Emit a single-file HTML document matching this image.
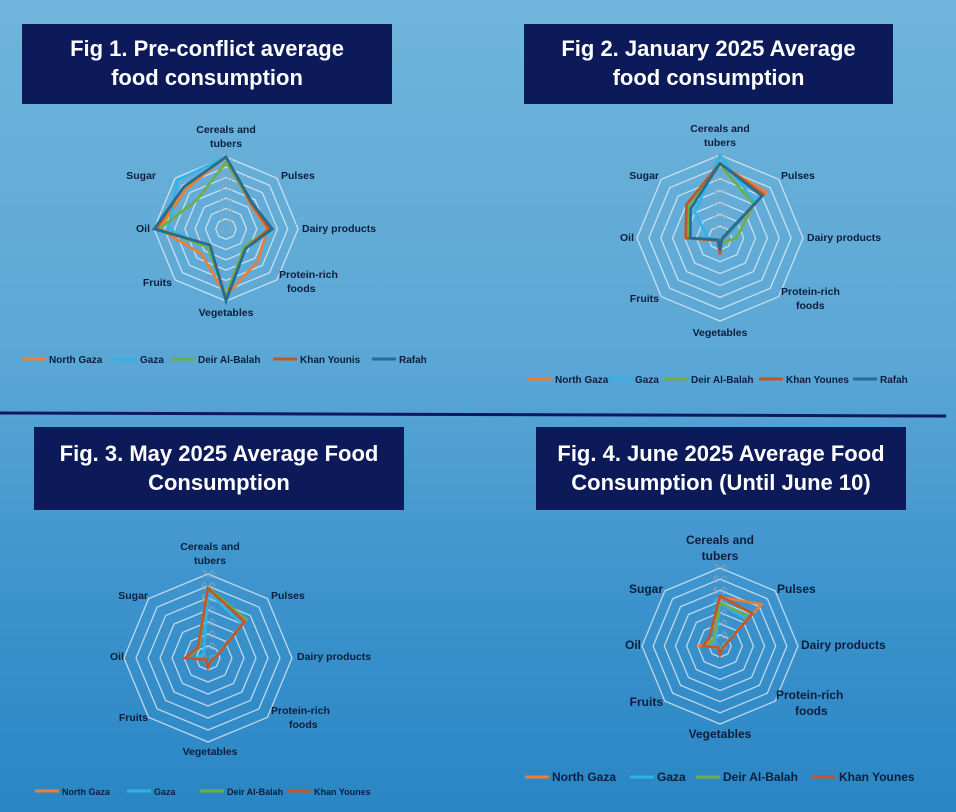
<!DOCTYPE html>
<html><head><meta charset="utf-8">
<style>
html,body{margin:0;padding:0;}
body{width:956px;height:812px;overflow:hidden;background:linear-gradient(180deg,#6fb5db 0%,#5aa6d5 45%,#3b92cc 75%,#2a86c4 100%);font-family:"Liberation Sans",sans-serif;position:relative;}
.tbox{position:absolute;background:#0c1a5a;color:#fff;font-weight:bold;text-align:center;display:flex;align-items:center;justify-content:center;line-height:1.3;}
svg{position:absolute;left:0;top:0;}
</style></head><body>
<div class="tbox" style="left:22px;top:24px;width:370px;height:80px;font-size:22px;">Fig 1. Pre-conflict average<br>food consumption</div>
<div class="tbox" style="left:524px;top:24px;width:369px;height:80px;font-size:22px;">Fig 2. January 2025 Average<br>food consumption</div>
<div class="tbox" style="left:34px;top:427px;width:370px;height:83px;font-size:22px;">Fig. 3. May 2025 Average Food<br>Consumption</div>
<div class="tbox" style="left:536px;top:427px;width:370px;height:83px;font-size:22px;">Fig. 4. June 2025 Average Food<br>Consumption (Until June 10)</div>
<svg id="chart" width="956" height="812" xmlns="http://www.w3.org/2000/svg">
<line x1="0" y1="413" x2="946" y2="416" stroke="#0c1a5a" stroke-width="3"/>
</svg>
<script>
const categories=["Cereals and tubers","Pulses","Dairy products","Protein-rich foods","Vegetables","Fruits","Oil","Sugar"];
const tickLabels=["0.0","1.0","2.0","3.0","4.0","5.0","6.0","7.0"];
const fig1NorthGaza=[7,3.4,4,4.4,6.5,3.4,6.5,5.5];
const fig1Gaza=[7,3.5,4.3,2.5,6.5,2.5,5.6,6.7];
const fig1DeirAlBalah=[6.5,3.5,4.2,2.5,6.5,2.5,6.5,4];
const fig1KhanYounis=[7,3.5,4.2,2.7,6.8,2.2,6.8,5.8];
const fig1Rafah=[7,3.6,4.5,2.7,7,2.2,7,5.8];
const fig2NorthGaza=[6.2,5.5,0.3,0.2,1.2,0.3,2.9,4];
const fig2Gaza=[7,4.2,0.5,0.3,0.5,0.3,1,3];
const fig2DeirAlBalah=[6.2,4,1.4,0.5,0.5,0.3,2.7,3.8];
const fig2KhanYounes=[6.3,5.2,0.3,0.2,1.4,0.3,2.9,4];
const fig2Rafah=[6.3,5,0.2,0.2,1,0.2,2.5,3.5];
const fig3NorthGaza=[5.8,4.3,0.6,0.3,0.8,0.2,1.9,1.2];
const fig3Gaza=[5.5,4,0.5,0.3,0.5,0.2,1,0.5];
const fig3DeirAlBalah=[5.9,4.5,0.6,0.3,0.6,0.2,1.8,1.1];
const fig3KhanYounes=[5.8,4.3,0.6,0.3,0.8,0.2,1.9,1.2];
const fig4NorthGaza=[4.4,5.3,0.3,0.2,0.5,0.2,1.8,0.8];
const fig4Gaza=[3.8,3.4,0.3,0.2,0.4,0.2,1,0.6];
const fig4DeirAlBalah=[3.9,3.7,0.4,0.3,0.6,0.2,1.2,0.8];
const fig4KhanYounes=[4.5,4.1,0.4,0.3,0.8,0.2,1.5,1.3];

const NS="http://www.w3.org/2000/svg";
const svg=document.getElementById('chart');
const COL={ng:"#ed7d31",gz:"#2fb4e8",db:"#70ad47",ky:"#c0562a",rf:"#1f6e93"};
function mk(tag,attrs,parent){const e=document.createElementNS(NS,tag);for(const k in attrs)e.setAttribute(k,attrs[k]);(parent||svg).appendChild(e);return e;}
function pt(cx,cy,r,i,v){const a=-Math.PI/2+i*Math.PI/4;const rr=r*v/7;return [cx+rr*Math.cos(a),cy+rr*Math.sin(a)];}
function radar(id,cx,cy,r,fs,labelPos,series,legendY,legend,lfs){
  const g=mk('g',{});
  
  
  for(let l=1;l<=7;l++){
    const pts=categories.map((c,i)=>pt(cx,cy,r,i,l).join(',')).join(' ');
    const ring=mk('polygon',{points:pts,fill:'none',stroke:'rgba(235,240,245,0.75)','stroke-width':1.3},g);
    
    
  }
  tickLabels.forEach((t,l)=>{
    const tx=mk('text',{x:cx+7,y:cy-r*l/7+3.5,'text-anchor':'end','font-size':10,fill:'#93a7b8'},g);
    tx.textContent=t;
    
    
  });
  series.forEach(s=>{
    const pts=s.vals.map((v,i)=>pt(cx,cy,r,i,v).join(',')).join(' ');
    const p=mk('polygon',{points:pts,fill:'none',stroke:s.col,'stroke-width':2.6,'stroke-linejoin':'miter'},g);
    
    
  });
  categories.forEach((c,i)=>{
    const lp=labelPos[i];
    const t=mk('text',{x:lp[0],y:lp[1],'text-anchor':lp[2],'font-size':fs,'font-weight':'bold',fill:'#0d1e3c'},g);
    const lines=lp[3]||[c];
    lines.forEach((ln,k)=>{const ts=mk('tspan',{x:lp[0]+(lp[4]&&k>0?lp[4]:0),dy:k?fs*1.35:0},t);ts.textContent=ln;});
    
    
  });
  legend.forEach(L=>{
    const ln=mk('line',{x1:L[0],y1:legendY,x2:L[0]+24,y2:legendY,stroke:L[2],'stroke-width':3},g);
    
    
    const t=mk('text',{x:L[0]+27,y:legendY+4,'font-size':lfs,'font-weight':'bold',fill:'#0d1e3c'},g);
    t.textContent=L[1];
    
    
  });
}
radar('fig1',226,229,72,10.5,[
 [226,133,'middle',['Cereals and','tubers']],[281,179,'start'],[302,232,'start'],[279,278,'start',['Protein-rich','foods'],8],
 [226,316,'middle'],[172,286,'end'],[150,232,'end'],[156,179,'end']],
 [{key:'north-gaza',col:COL.ng,vals:fig1NorthGaza},{key:'gaza',col:COL.gz,vals:fig1Gaza},{key:'deir-al-balah',col:COL.db,vals:fig1DeirAlBalah},{key:'khan-younis',col:COL.ky,vals:fig1KhanYounis},{key:'rafah',col:COL.rf,vals:fig1Rafah}],
 359,[[22,'North Gaza',COL.ng],[113,'Gaza',COL.gz],[171,'Deir Al-Balah',COL.db],[273,'Khan Younis',COL.ky],[372,'Rafah',COL.rf]],10);
radar('fig2',720,238,83,10.5,[
 [720,132,'middle',['Cereals and','tubers']],[781,179,'start'],[807,241,'start'],[781,295,'start',['Protein-rich','foods'],15],
 [720,336,'middle'],[659,302,'end'],[634,241,'end'],[659,179,'end']],
 [{key:'north-gaza',col:COL.ng,vals:fig2NorthGaza},{key:'gaza',col:COL.gz,vals:fig2Gaza},{key:'deir-al-balah',col:COL.db,vals:fig2DeirAlBalah},{key:'khan-younes',col:COL.ky,vals:fig2KhanYounes},{key:'rafah',col:COL.rf,vals:fig2Rafah}],
 379,[[528,'North Gaza',COL.ng],[608,'Gaza',COL.gz],[664,'Deir Al-Balah',COL.db],[759,'Khan Younes',COL.ky],[853,'Rafah',COL.rf]],10);
radar('fig3',208,658,84,10.5,[
 [210,550,'middle',['Cereals and','tubers']],[271,599,'start'],[297,660,'start'],[271,714,'start',['Protein-rich','foods'],18],
 [210,755,'middle'],[148,721,'end'],[124,660,'end'],[148,599,'end']],
 [{key:'north-gaza',col:COL.ng,vals:fig3NorthGaza},{key:'gaza',col:COL.gz,vals:fig3Gaza},{key:'deir-al-balah',col:COL.db,vals:fig3DeirAlBalah},{key:'khan-younes',col:COL.ky,vals:fig3KhanYounes}],
 791,[[35,'North Gaza',COL.ng],[127,'Gaza',COL.gz],[200,'Deir Al-Balah',COL.db],[287,'Khan Younes',COL.ky]],9);
radar('fig4',720,646,78,12,[
 [720,544,'middle',['Cereals and','tubers']],[777,593,'start'],[801,649,'start'],[776,699,'start',['Protein-rich','foods'],19],
 [720,738,'middle'],[663,706,'end'],[641,649,'end'],[663,593,'end']],
 [{key:'north-gaza',col:COL.ng,vals:fig4NorthGaza},{key:'gaza',col:COL.gz,vals:fig4Gaza},{key:'deir-al-balah',col:COL.db,vals:fig4DeirAlBalah},{key:'khan-younes',col:COL.ky,vals:fig4KhanYounes}],
 777,[[525,'North Gaza',COL.ng],[630,'Gaza',COL.gz],[696,'Deir Al-Balah',COL.db],[812,'Khan Younes',COL.ky]],12);
</script>
</body></html>
